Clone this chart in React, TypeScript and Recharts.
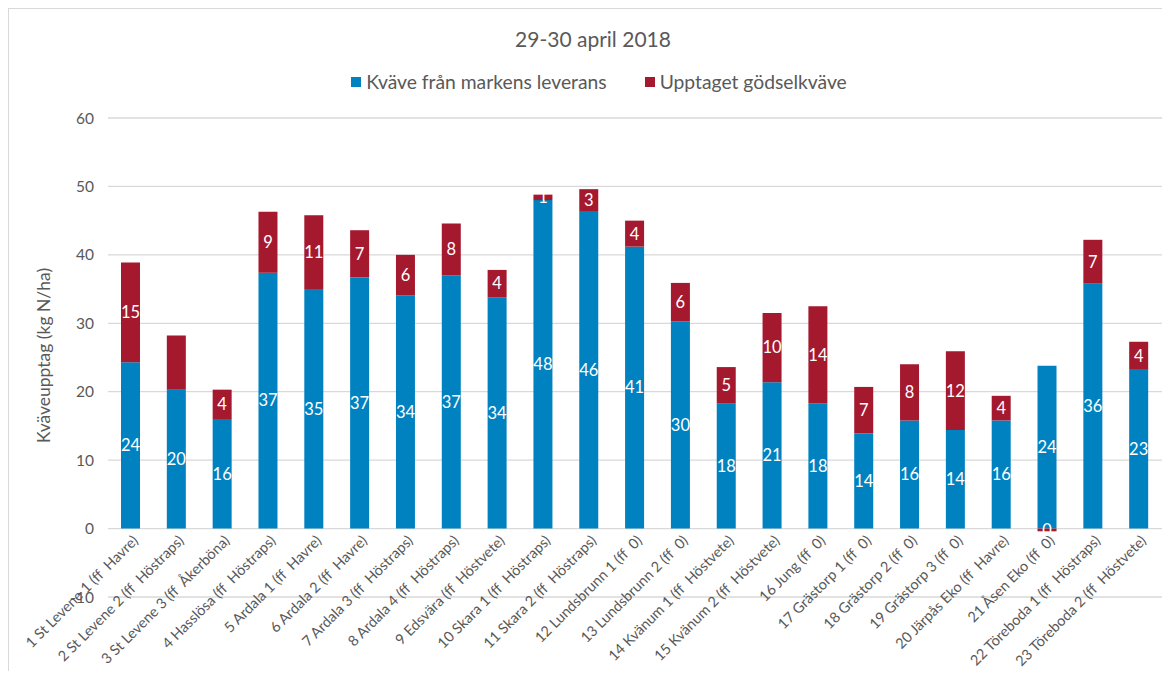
import React from "react";
import { BarChart, Bar, XAxis, YAxis, CartesianGrid, LabelList } from "recharts";

// Försöksplatser (kategorier)
const platser = [
  "1 St Levene 1 (ff  Havre)",
  "2 St Levene 2 (ff  Höstraps)",
  "3 St Levene 3 (ff  Åkerböna)",
  "4 Hasslösa (ff  Höstraps)",
  "5 Ardala 1 (ff  Havre)",
  "6 Ardala 2 (ff  Havre)",
  "7 Ardala 3 (ff  Höstraps)",
  "8 Ardala 4 (ff  Höstraps)",
  "9 Edsvära (ff  Höstvete)",
  "10 Skara 1 (ff  Höstraps)",
  "11 Skara 2 (ff  Höstraps)",
  "12 Lundsbrunn 1 (ff  0)",
  "13 Lundsbrunn 2 (ff  0)",
  "14 Kvänum 1 (ff  Höstvete)",
  "15 Kvänum 2 (ff  Höstvete)",
  "16 Jung (ff  0)",
  "17 Grästorp 1 (ff  0)",
  "18 Grästorp 2 (ff  0)",
  "19 Grästorp 3 (ff  0)",
  "20 Järpås Eko (ff  Havre)",
  "21 Åsen Eko (ff  0)",
  "22 Töreboda 1 (ff  Höstraps)",
  "23 Töreboda 2 (ff  Höstvete)",
];

// Kväve från markens leverans
const markKvave = [24.3, 20.3, 16, 37.4, 35, 36.7, 34.1, 37, 33.8, 48, 46.4, 41.2, 30.3, 18.3, 21.4, 18.3, 13.9, 15.8, 14.4, 15.8, 23.8, 35.8, 23.2];
// Upptaget gödselkväve
const godselKvave = [14.6, 7.9, 4.3, 8.9, 10.8, 6.9, 5.9, 7.6, 4, 0.8, 3.2, 3.8, 5.6, 5.3, 10.1, 14.2, 6.8, 8.2, 11.5, 3.6, -0.4, 6.4, 4.1];
// etiketter som visas i röda staplar (nr 2 saknar etikett i originalet)
const godselEtikett = ["15", null, "4", "9", "11", "7", "6", "8", "4", "1", "3", "4", "6", "5", "10", "14", "7", "8", "12", "4", "0", "7", "4"];

const yTicks = [-10, 0, 10, 20, 30, 40, 50, 60];

const BLA = "#0082C0";
const ROD = "#A5192F";
const GRA = "#595959";
const FONT = "Lato, 'Open Sans', sans-serif";

const data = platser.map((namn, i) => ({
  namn,
  mark: markKvave[i],
  godsel: godselKvave[i],
  godselLabel: godselEtikett[i],
}));

// tick text is drawn at the zero line (10 units above the bottom)
const ZERO_SHIFT = 68.5;

const CatTick = (props: any) => {
  const { x, y, payload } = props;
  return (
    <g transform={`translate(${x + 8},${y - ZERO_SHIFT + 11})`}>
      <text textAnchor="end" transform="rotate(-45)" fontSize={14.5} fill={GRA} fontFamily={FONT} style={{ whiteSpace: "pre" }}>
        {payload.value}
      </text>
    </g>
  );
};

const YLabel = (props: any) => {
  const vb = props.viewBox;
  const cx = vb.x + 34;
  const cy = vb.y + vb.height / 2 - 2;
  return (
    <text x={cx} y={cy} transform={`rotate(-90 ${cx} ${cy})`} textAnchor="middle" dominantBaseline="central" fontSize={17.5} fill={GRA} fontFamily={FONT}>
      Kväveupptag (kg N/ha)
    </text>
  );
};

const labelStyle = { fill: "#ffffff", fontSize: 16.5, fontFamily: FONT };

export default function App() {
  return (
    <div style={{ position: "relative", width: 1162, height: 663, borderLeft: "1px solid #d9d9d9", borderTop: "1px solid #d9d9d9", background: "#fff", boxSizing: "border-box" }}>
      <div style={{ position: "absolute", top: 17, left: 0, width: 1168, textAlign: "center", fontFamily: FONT, fontSize: 21, color: GRA }}>
        29-30 april 2018
      </div>
      <div style={{ position: "absolute", top: 61, left: 0, width: 1180, display: "flex", justifyContent: "center", gap: 38, fontFamily: FONT, fontSize: 19.3, color: GRA }}>
        <div style={{ display: "flex", alignItems: "center" }}>
          <span style={{ width: 10, height: 10, background: BLA, display: "inline-block", marginRight: 5 }} />
          Kväve från markens leverans
        </div>
        <div style={{ display: "flex", alignItems: "center" }}>
          <span style={{ width: 10, height: 10, background: ROD, display: "inline-block", marginRight: 5 }} />
          Upptaget gödselkväve
        </div>
      </div>
      <BarChart
        width={1161}
        height={662}
        data={data}
        stackOffset="sign"
        barSize={19}
        margin={{ top: 109, right: 8, bottom: 0, left: 0 }}
      >
        <CartesianGrid vertical={false} stroke="#d9d9d9" strokeWidth={1.3} />
        <XAxis dataKey="namn" interval={0} height={74} axisLine={false} tickLine={false} tickSize={0} tick={<CatTick />} />
        <YAxis
          domain={[-10, 60]}
          ticks={yTicks}
          width={99}
          axisLine={false}
          tickLine={false}
          tickSize={0}
          tickMargin={14}
          tick={{ fill: GRA, fontSize: 15.5, fontFamily: FONT }}
          label={{ content: <YLabel /> }}
        />
        <Bar dataKey="mark" stackId="a" fill={BLA} isAnimationActive={false}>
          <LabelList dataKey="mark" position="center" formatter={(v: any) => String(Math.round(v))} style={labelStyle} />
        </Bar>
        <Bar dataKey="godsel" stackId="a" fill={ROD} isAnimationActive={false}>
          <LabelList dataKey="godselLabel" position="center" style={labelStyle} />
        </Bar>
      </BarChart>
    </div>
  );
}
